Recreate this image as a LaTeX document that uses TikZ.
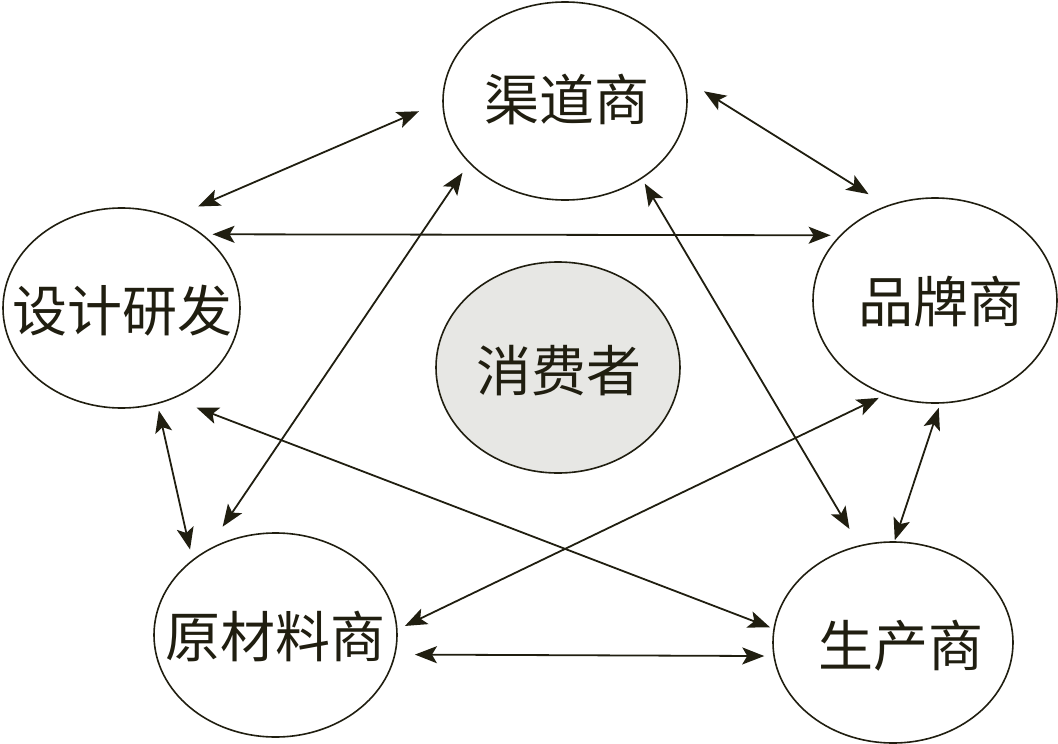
\documentclass[tikz,border=0pt]{standalone}
\usepackage{fontspec}
\newfontfamily\cjk{Noto Sans CJK SC}
\usetikzlibrary{shapes.geometric,arrows.meta,calc}
\definecolor{ink}{RGB}{32,30,16}
\definecolor{cons}{RGB}{231,231,228}
\begin{document}
\begin{tikzpicture}[x=1pt,y=-1pt,
  ent/.style={ellipse, draw=ink, line width=1.6pt, inner sep=0pt},
  lbl/.style={inner sep=0pt, text=ink, font=\cjk\fontsize{55}{60}\selectfont},
  lnk/.style={{Stealth[length=22pt,width=17pt,inset=5pt]}-{Stealth[length=22pt,width=17pt,inset=5pt]}, draw=ink, line width=1.8pt}]
\useasboundingbox (0,0) rectangle (1058,744);
% entities
\node[ent, minimum width=244pt, minimum height=198pt] (Q) at (565,101) {};
\node[ent, minimum width=237pt, minimum height=200pt] (D) at (121.5,308) {};
\node[ent, minimum width=244pt, minimum height=205pt] (P) at (935,300.5) {};
\node[ent, fill=cons, minimum width=244pt, minimum height=211pt] (C) at (558,367.5) {};
\node[ent, minimum width=243pt, minimum height=204pt] (M) at (275.5,635) {};
\node[ent, minimum width=240pt, minimum height=201pt] (S) at (893,642.5) {};
% labels
\node[lbl] (Qt) at ($(Q.center)+(2,-1)$) {渠道商};
\node[lbl] (Dt) at ($(D.center)+(1,3)$) {设计研发};
\node[lbl] (Pt) at ($(P.center)+(6,1.5)$) {品牌商};
\node[lbl] (Ct) at ($(C.center)+(1,3.5)$) {消费者};
\node[lbl] (Mt) at ($(M.center)+(-0.5,1)$) {原材料商};
\node[lbl] (St) at ($(S.center)+(8,3.5)$) {生产商};
% connectors
\draw[lnk] ($(Q.center)!1.194!(Q.184)$) -- ($(D.center)!1.194!(D.53)$);
\draw[lnk] ($(Q.center)!1.136!(Q.4)$) -- ($(P.center)!1.163!(P.122)$);
\draw[lnk] ($(D.center)!1.057!(D.39)$) -- ($(P.center)!1.059!(P.148)$);
\draw[lnk] ($(Q.center)!1.102!(Q.215)$) -- ($(M.center)!1.139!(M.116)$);
\draw[lnk] ($(Q.center)!1.052!(Q.314)$) -- ($(S.center)!1.178!(S.111)$);
\draw[lnk] ($(D.center)!1.065!(D.290)$) -- ($(M.center)!1.086!(M.135)$);
\draw[lnk] ($(D.center)!1.173!(D.307)$) -- ($(S.center)!1.028!(S.173)$);
\draw[lnk] ($(P.center)!1.048!(P.240)$) -- ($(M.center)!1.062!(M.4)$);
\draw[lnk] ($(P.center)!1.039!(P.272)$) -- ($(S.center)!1.01!(S.89)$);
\draw[lnk] ($(M.center)!1.156!(M.352)$) -- ($(S.center)!1.074!(S.186)$);
\end{tikzpicture}
\end{document}
